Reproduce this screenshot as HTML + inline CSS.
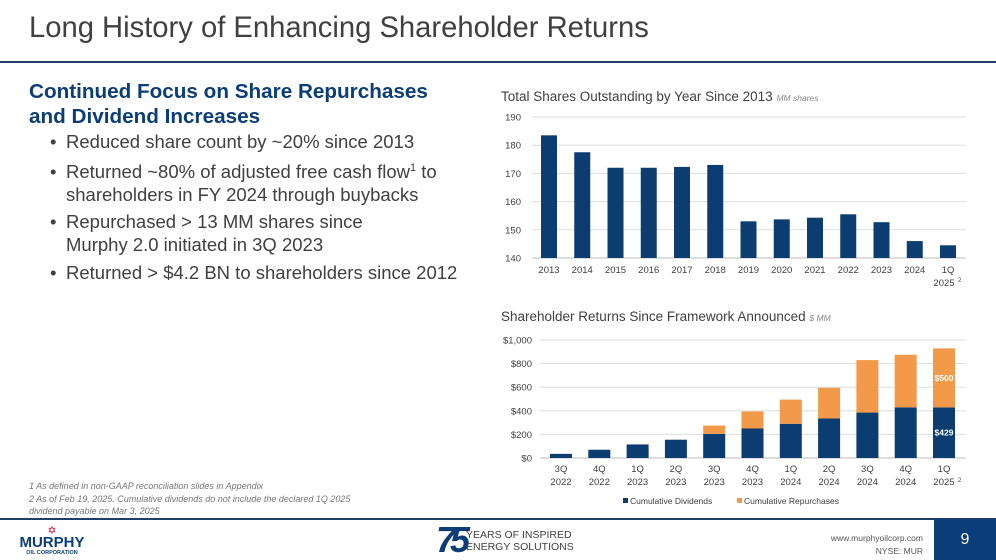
<!DOCTYPE html>
<html><head><meta charset="utf-8">
<style>
body{margin:0;width:996px;height:560px;position:relative;background:#fff;font-family:"Liberation Sans",Arial,sans-serif;overflow:hidden}
.a{position:absolute;white-space:nowrap}
.b{position:absolute;left:50px;font-size:18.5px;color:#404040;line-height:22.5px;white-space:nowrap;width:430px}
.b span{position:absolute;left:16px;white-space:nowrap}
sup{line-height:0;font-size:11px}
</style></head><body>
<div class="a" style="left:29px;top:12px;font-size:29.2px;color:#404040">Long History of Enhancing Shareholder Returns</div>
<div class="a" style="left:0;top:61px;width:996px;height:1.5px;background:#1f3f66"></div>
<div class="a" style="left:29px;top:79px;font-size:20.7px;font-weight:bold;color:#0b3d78;line-height:25px">Continued Focus on Share Repurchases<br>and Dividend Increases</div>
<div class="b" style="top:131px">•<span>Reduced share count by ~20% since 2013</span></div>
<div class="b" style="top:161px">•<span>Returned ~80% of adjusted free cash flow<sup>1</sup> to<br>shareholders in FY 2024 through buybacks</span></div>
<div class="b" style="top:211px">•<span>Repurchased &gt; 13 MM shares since<br>Murphy 2.0 initiated in 3Q 2023</span></div>
<div class="b" style="top:262px">•<span>Returned &gt; $4.2 BN to shareholders since 2012</span></div>
<div class="a" style="left:29px;top:480px;font-size:9px;font-style:italic;color:#777;line-height:12.5px">1 As defined in non-GAAP reconciliation slides in Appendix<br>2 As of Feb 19, 2025. Cumulative dividends do not include the declared 1Q 2025<br>dividend payable on Mar 3, 2025</div>

<svg class="a" style="left:0;top:0" width="996" height="560">
<g id="c1"></g>
<g id="c2"></g>
</svg>

<div class="a" style="left:0;top:518px;width:996px;height:1.5px;background:#1f3f66"></div>
<div class="a" style="left:16px;top:526px;text-align:center;color:#0b3d78;width:72px">
<div style="color:#c8102e;font-size:11px;line-height:10px">✡</div>
<div style="font-weight:bold;font-size:15px;line-height:14px">MURPHY</div>
<div style="font-weight:bold;font-size:5.5px;line-height:7px">OIL CORPORATION</div></div>
<div class="a" style="left:436px;top:520px;font-size:36px;font-weight:bold;font-style:italic;color:#0b3d78;letter-spacing:-6px;line-height:40px">75</div>
<div class="a" style="left:466px;top:529px;font-size:10.5px;color:#404040;line-height:12px">YEARS OF INSPIRED<br>ENERGY SOLUTIONS</div>
<div class="a" style="right:73px;top:532px;font-size:8.5px;color:#555;text-align:right;line-height:13px">www.murphyoilcorp.com<br>NYSE: MUR</div>
<div class="a" style="left:934px;top:519px;width:62px;height:41px;background:#0b3d78;color:#fff;font-size:16px;text-align:center;line-height:41px">9</div>

<script>
const years=["2013","2014","2015","2016","2017","2018","2019","2020","2021","2022","2023","2024","1Q"];
const shares=[183.5,177.5,172,172,172.3,173,153,153.7,154.3,155.5,152.7,146,144.5];
const shareTicks=[140,150,160,170,180,190];
const quarters=["3Q","4Q","1Q","2Q","3Q","4Q","1Q","2Q","3Q","4Q","1Q"];
const qYears=["2022","2022","2023","2023","2023","2023","2024","2024","2024","2024","2025"];
const dividends=[35,70,115,155,205,250,290,335,385,429,429];
const repurchases=[0,0,0,0,70,145,205,260,445,446,500];
const retTicks=[0,200,400,600,800,1000];
const NS="http://www.w3.org/2000/svg";
function mk(p,t,a,txt){const e=document.createElementNS(NS,t);for(const k in a)e.setAttribute(k,a[k]);if(txt!==undefined)e.textContent=txt;p.appendChild(e);return e;}
// chart 1
const c1=document.getElementById('c1');
mk(c1,'text',{x:501,y:101,'font-size':13.5,fill:'#404040'},"Total Shares Outstanding by Year Since 2013 ").appendChild(document.createElementNS(NS,'tspan'));
const t1=c1.lastChild.lastChild;t1.setAttribute('font-size','8.5');t1.setAttribute('font-style','italic');t1.setAttribute('fill','#888');t1.textContent="MM shares";
const y1=v=>258-(v-140)*(141/50), x1=i=>549+i*33.25;
shareTicks.forEach(t=>{
 const l=mk(c1,'line',{x1:532,x2:966,y1:y1(t),y2:y1(t),stroke:t===140?'#bbb':'#ddd','stroke-width':1});
 
 const tx=mk(c1,'text',{x:521,y:y1(t)+3.5,'font-size':9.5,fill:'#404040','text-anchor':'end'},t);
 
});
shares.forEach((v,i)=>{
 const r=mk(c1,'rect',{x:x1(i)-8,y:y1(v),width:16,height:y1(140)-y1(v),fill:'#0b3d70'});
 
 const tx=mk(c1,'text',{x:x1(i),y:273,'font-size':9.5,fill:'#404040','text-anchor':'middle'},years[i]);
 
});
mk(c1,'text',{x:x1(12)-4,y:286,'font-size':9.5,fill:'#404040','text-anchor':'middle'},"2025");
mk(c1,'text',{x:x1(12)+10,y:282,'font-size':6,fill:'#404040'},"2");
// chart 2
const c2=document.getElementById('c2');
mk(c2,'text',{x:501,y:321,'font-size':13.5,fill:'#404040'},"Shareholder Returns Since Framework Announced ").appendChild(document.createElementNS(NS,'tspan'));
const t2=c2.lastChild.lastChild;t2.setAttribute('font-size','8.5');t2.setAttribute('font-style','italic');t2.setAttribute('fill','#888');t2.textContent="$ MM";
const y2=v=>458-v*0.118, x2=i=>561+i*38.3;
retTicks.forEach(t=>{
 const l=mk(c2,'line',{x1:540,x2:966,y1:y2(t),y2:y2(t),stroke:t===0?'#bbb':'#ddd','stroke-width':1});
 
 const tx=mk(c2,'text',{x:532,y:y2(t)+3.5,'font-size':9.5,fill:'#404040','text-anchor':'end'},'$'+t.toLocaleString('en-US'));
 
});
dividends.forEach((d,i)=>{
 const r=mk(c2,'rect',{x:x2(i)-11,y:y2(d),width:22,height:y2(0)-y2(d),fill:'#0b3d70'});
 
 const p=repurchases[i];
 if(p>0){const r2=mk(c2,'rect',{x:x2(i)-11,y:y2(d+p),width:22,height:y2(d)-y2(d+p),fill:'#f29a4a'});
 }
 mk(c2,'text',{x:x2(i),y:472,'font-size':9.5,fill:'#404040','text-anchor':'middle'},quarters[i]);
 mk(c2,'text',{x:x2(i),y:485,'font-size':9.5,fill:'#404040','text-anchor':'middle'},qYears[i]);
});
const L=dividends.length-1;
mk(c2,'text',{x:x2(L),y:y2(dividends[L]/2)+3,'font-size':8.5,'font-weight':'bold',fill:'#fff','text-anchor':'middle'},'$'+dividends[L]);
mk(c2,'text',{x:x2(L),y:y2(dividends[L]+repurchases[L]/2)+3,'font-size':8.5,'font-weight':'bold',fill:'#fff','text-anchor':'middle'},'$'+repurchases[L]);
mk(c2,'text',{x:x2(L)+14,y:482,'font-size':6,fill:'#404040'},"2");
const lg=mk(c2,'g',{});
mk(lg,'rect',{x:623,y:498,width:5,height:5,fill:'#0b3d70'});
mk(lg,'text',{x:630,y:504,'font-size':8.5,fill:'#404040'},"Cumulative Dividends");
mk(lg,'rect',{x:737,y:498,width:5,height:5,fill:'#f29a4a'});
mk(lg,'text',{x:744,y:504,'font-size':8.5,fill:'#404040'},"Cumulative Repurchases");
</script>
</body></html>
